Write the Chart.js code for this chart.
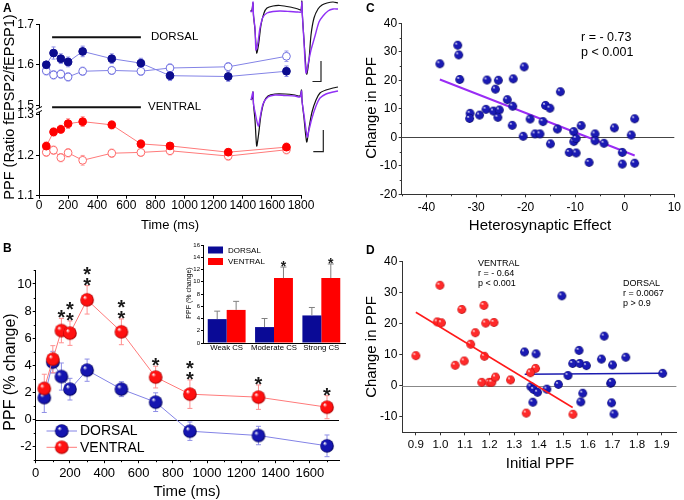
<!DOCTYPE html>
<html><head><meta charset="utf-8">
<script src="https://cdn.jsdelivr.net/npm/chart.js@4.4.1/dist/chart.umd.min.js"></script>
<style>
html,body{margin:0;padding:0;background:#fff;}
#wrap{position:relative;width:684px;height:500px;overflow:hidden;font-family:'Liberation Sans',Arial,sans-serif;color:#000;background:#fff;}
canvas{position:absolute;left:0;top:0;}
.t{position:absolute;white-space:nowrap;line-height:1;}
.rot{transform:translate(-50%,-50%) rotate(-90deg);}
.c{transform:translate(-50%,-50%);}
.l{transform:translate(0,-50%);}
.pl{font-weight:bold;font-size:12px;}
</style></head><body><div id="wrap">
<canvas id="cA" width="684" height="500"></canvas>
<canvas id="cTr" width="684" height="500"></canvas>
<canvas id="cB" width="684" height="500"></canvas>
<canvas id="cIn" width="684" height="500"></canvas>
<canvas id="cC" width="684" height="500"></canvas>
<canvas id="cD" width="684" height="500"></canvas>

<div class="t pl" style="left:3px;top:2px;">A</div>
<div class="t pl" style="left:3px;top:242px;">B</div>
<div class="t pl" style="left:366px;top:2px;">C</div>
<div class="t pl" style="left:366px;top:244px;">D</div>

<div class="t rot" style="left:9px;top:107px;font-size:14.5px;">PPF (Ratio fEPSP2/fEPSP1)</div>
<div class="t c" style="left:170px;top:224px;font-size:13px;">Time (ms)</div>
<div class="t l" style="left:151px;top:37px;font-size:11.5px;">DORSAL</div>
<div class="t l" style="left:148px;top:107px;font-size:11.5px;">VENTRAL</div>

<div class="t rot" style="left:10px;top:372px;font-size:16px;">PPF (% change)</div>
<div class="t c" style="left:187px;top:490px;font-size:15px;">Time (ms)</div>
<div class="t rot" style="left:188px;top:293px;font-size:7px;">PPF (% change)</div>

<div class="t rot" style="left:370px;top:108px;font-size:15px;">Change in PPF</div>
<div class="t c" style="left:540px;top:224px;font-size:15px;">Heterosynaptic Effect</div>
<div class="t l" style="left:581px;top:37px;font-size:12.5px;">r = - 0.73</div>
<div class="t l" style="left:581px;top:52px;font-size:12.5px;">p &lt; 0.001</div>

<div class="t rot" style="left:370px;top:347px;font-size:15px;">Change in PPF</div>
<div class="t c" style="left:540px;top:462px;font-size:15px;">Initial PPF</div>
<div class="t l" style="left:478px;top:263px;font-size:9px;">VENTRAL</div>
<div class="t l" style="left:478px;top:273px;font-size:9px;">r = - 0.64</div>
<div class="t l" style="left:478px;top:283px;font-size:9px;">p &lt; 0.001</div>
<div class="t l" style="left:623px;top:283px;font-size:9px;">DORSAL</div>
<div class="t l" style="left:623px;top:293px;font-size:9px;">r = 0.0067</div>
<div class="t l" style="left:623px;top:303px;font-size:9px;">p &gt; 0.9</div>
</div>
<script>
// ================= DATA =================
const timesMs = [50,100,150,200,300,500,700,900,1300,1700];
// Panel A (PPF ratio)
const dorsalPpfCS      = [1.600,1.629,1.615,1.607,1.633,1.615,1.604,1.573,1.571,1.584];
const dorsalPpfCSErr   = [0.008,0.015,0.012,0.012,0.013,0.012,0.012,0.012,0.012,0.013];
const dorsalPpfBase    = [1.585,1.575,1.577,1.570,1.584,1.586,1.584,1.592,1.595,1.621];
const dorsalPpfBaseErr = [0.010,0.010,0.010,0.010,0.010,0.010,0.010,0.010,0.010,0.013];
const ventralPpfCS      = [1.2225,1.2575,1.264,1.278,1.283,1.275,1.228,1.223,1.2075,1.220];
const ventralPpfCSErr   = [0.010,0.010,0.010,0.012,0.012,0.010,0.010,0.008,0.008,0.010];
const ventralPpfBase    = [1.2075,1.2125,1.194,1.206,1.1875,1.205,1.207,1.211,1.198,1.2135];
const ventralPpfBaseErr = [0.010,0.010,0.010,0.010,0.012,0.010,0.010,0.010,0.010,0.010];
const ppfTicksLow  = [1.1,1.2,1.3];
const ppfTicksHigh = [1.5,1.6,1.7];
const timeTicksA   = [0,200,400,600,800,1000,1200,1400,1600,1800];
const stimBarTimes = [90,700];
const dorsalBarLevel = 1.668;
const ventralBarLevel = 1.495;
// Example traces (t, amplitude) : before (black) and after (purple)
const trDorsalBeforeT = [0.5,2,3,3.5,5,6.7,8.5,11,14,17,23,30,40,48,51,51.8,52.3,54,56.7,59,61,64,68,72,77,83,88];
const trDorsalBeforeV = [-11,-10,-3,-15,-30,-53,-45,-25,-13,-8,-6,-5.5,-7,-9,-10,-1,-14,-40,-74,-60,-35,-18,-9,-5,-3,-2,-3];
const trDorsalAfterT  = [0.5,2,3,3.5,5,6,8,10,13,17,23,30,40,48,51,51.8,52.3,54,56,58.5,61,65,69,73,78,83,88];
const trDorsalAfterV  = [-12,-11,-2,-16,-28,-50,-42,-28,-17,-13,-11.5,-11,-11.5,-12,-12,-2,-14,-42,-73,-62,-50,-36,-22,-16,-11,-9,-9];
const trVentralBeforeT = [1,2.5,3,3.5,5,6.7,8.5,11,14,18,25,35,45,50,51.5,52,54,56.7,59,62,66,70,76,83,88];
const trVentralBeforeV = [-100,-98,-92,-104,-120,-146,-135,-115,-102,-96,-94,-94,-95,-96,-90,-100,-118,-142,-128,-112,-100,-93,-90,-88,-87];
const trVentralAfterT  = [1,3,3.5,5,8.3,10,13,18,25,35,45,50,51.5,52,54,57.3,59,62,66,70,76,83,88];
const trVentralAfterV  = [-100,-92,-104,-112,-126,-118,-104,-97,-95,-95.5,-96,-97,-91,-101,-115,-137,-130,-118,-106,-98,-94,-92,-91];
const scaleBarUpperT = [62.5,71,71];   const scaleBarUpperV = [-81.5,-81.5,-61];
const scaleBarLowerT = [63.3,73.3,73.3]; const scaleBarLowerV = [-151.7,-151.7,-130];

// Panel B (% change)
const dorsalChange     = [1.62,4.23,3.17,2.24,3.64,2.24,1.28,-0.86,-1.18,-1.94];
const dorsalChangeErr  = [1.10,0.80,1.00,0.80,0.82,0.55,0.69,0.68,0.68,0.80];
const ventralChange    = [2.29,4.45,6.56,6.37,8.83,6.47,3.13,1.87,1.65,0.91];
const ventralChangeErr = [1.05,1.00,0.90,0.90,1.05,0.95,0.80,1.05,0.90,0.85];
const ventralStars     = [0,0,1,2,2,2,1,2,1,1];
const timeTicksB  = [0,200,400,600,800,1000,1200,1400,1600];
const timeMinorB  = [100,300,500,700,900,1100,1300,1500,1700];
const changeTicksB = [-2,0,2,4,6,8,10];
const changeMinorB = [-3,-1,1,3,5,7,9,11];
// Inset (CS strength)
const csCategories  = ['Weak CS','Moderate CS','Strong CS'];
const dorsalCsPpf   = [3.9,2.6,4.5];
const dorsalCsErr   = [1.3,1.4,1.3];
const ventralCsPpf  = [5.4,10.6,10.6];
const ventralCsErr  = [1.4,1.8,2.3];
const ventralCsStars = [0,1,1];
const insetTicks = [0,2,4,6,8,10,12,14,16];

// Panel C
const heteroEffect = [-37.3,-33.7,-33.5,-33.3,-31.2,-31.3,-29.3,-28.0,-27.8,-25.5,-26.1,-26.5,-25.3,-25.6,-22.5,-20.3,-23.7,-22.6,-22.7,-19.1,-16.5,-16.0,-15.1,-13.0,-13.6,-8.8,-2.1,2.0,-20.5,-18.1,-17.1,-15.0,-11.2,-9.8,-10.3,-10.3,-9.8,-7.2,-6.0,-6.0,-4.2,-0.5,-0.5,1.3,2.0];
const heteroChange = [25.8,32.3,28.9,20.3,8.4,6.6,7.8,9.8,20.1,20.0,16.9,9.2,9.6,7.0,20.5,24.7,13.2,10.9,4.2,6.4,5.5,11.2,10.2,16.0,2.9,4.1,3.3,6.5,0.35,1.2,1.2,-2.3,-5.3,-5.5,2.0,-1.5,-0.4,-8.8,1.2,-1.2,-2.1,-5.3,-9.4,0.8,-9.1];
const heteroFitX = [-37.3,2.0];
const heteroFitY = [20.3,-6.4];
const heteroTicksX = [-40,-30,-20,-10,0,10];
const heteroMinorX = [-45,-35,-25,-15,-5,5];
const heteroTicksY = [-20,-10,0,10,20,30,40];
const heteroMinorY = [-15,-5,5,15,25,35];

// Panel D
const ventralInitial = [0.900,0.998,0.987,1.004,1.060,1.097,1.087,1.177,1.184,1.218,1.142,1.123,1.179,1.387,1.366,1.168,1.198,1.209,1.224,1.285,1.349,1.539];
const ventralDelta   = [9.7,32.4,20.6,20.3,6.6,8.0,24.6,25.9,20.2,20.4,17.1,13.4,9.5,5.6,4.2,1.1,1.1,1.1,2.8,1.9,-8.8,-9.2];
const dorsalInitial  = [1.494,1.342,1.389,1.564,1.538,1.567,1.594,1.655,1.666,1.700,1.754,1.519,1.904,1.368,1.379,1.395,1.433,1.480,1.376,1.571,1.579,1.692,1.696,1.696,1.706];
const dorsalDelta    = [29.0,10.9,10.3,11.4,7.2,7.2,6.5,8.6,16.0,6.7,9.2,3.3,4.0,-0.3,-1.2,-2.1,-1.1,0.45,-5.3,-5.2,-2.4,0.8,1.1,-5.5,-9.1];
const ventralFitX = [0.90,1.538];  const ventralFitY = [23.7,-7.0];
const dorsalFitX  = [1.343,1.904]; const dorsalFitY  = [3.7,4.0];
const initTicksX = [0.9,1.0,1.1,1.2,1.3,1.4,1.5,1.6,1.7,1.8,1.9];
const initTicksY = [-10,0,10,20,30,40];

// ================= STYLE / HELPERS =================
const FONT = "'Liberation Sans', Arial, sans-serif";
Chart.defaults.font.family = FONT;
Chart.defaults.animation = false;
Chart.defaults.events = [];
Chart.defaults.plugins.legend.display = false;
Chart.defaults.plugins.tooltip.enabled = false;

const NAVY = '#0c0c8e', BLUE_LINE = '#8383e6', RED = '#ff0000', RED_LINE = '#ff7a7a';

function pts(xs, ys){ return xs.map((x,i)=>({x:x, y:ys[i]})); }
function sphere(col, dark, r){
  const s = Math.ceil(2*r+2), c = document.createElement('canvas');
  c.width = s; c.height = s;
  const g = c.getContext('2d'), cx = s/2, cy = s/2;
  const gr = g.createRadialGradient(cx-0.38*r, cy-0.42*r, 0.04*r, cx, cy, r);
  gr.addColorStop(0, '#ffffff'); gr.addColorStop(0.28, col); gr.addColorStop(0.8, col); gr.addColorStop(1, dark);
  g.fillStyle = gr; g.beginPath(); g.arc(cx, cy, r, 0, Math.PI*2); g.fill();
  return c;
}
const sBlueB = sphere('#1515b0','#000055',6.8), sRedB = sphere('#ff1010','#a00000',6.8);
const sBlueS = sphere('#1a1ab4','#00005a',4.4), sRedS = sphere('#ff2a2a','#b00000',4.4);

function axis(o){
  const col = o.color || '#000';
  const a = {
    type:'linear', position:o.position, min:o.min, max:o.max,
    border:{display:true, color:col, width:1},
    grid:{display:true, drawOnChartArea:false, drawTicks:true, tickLength:o.tl ?? 3, color:col, tickColor:col, tickWidth:1},
    ticks:{font:{size:o.size, family:FONT}, color:'#000', padding:o.pad ?? 2, autoSkip:false, maxRotation:0, minRotation:0,
           callback:o.cb || (v=>String(v))},
    afterFit: o.position==='left' ? (s=>{s.width=o.fit;}) : (s=>{s.height=o.fit;})
  };
  if (o.ticks) a.afterBuildTicks = s=>{ s.ticks = o.ticks.map(v=>({value:v})); };
  return a;
}
function drawErr(chart, di, errs, color, cap, lw, upOnly){
  const meta = chart.getDatasetMeta(di), ys = chart.scales[meta.yAxisID], ds = chart.data.datasets[di], ctx = chart.ctx;
  ctx.save(); ctx.strokeStyle = color; ctx.lineWidth = lw; ctx.beginPath();
  meta.data.forEach((el,i)=>{
    const d = ds.data[i], v = (typeof d === 'object') ? d.y : d, e = errs[i];
    const x = el.x, y1 = ys.getPixelForValue(v+e), y2 = upOnly ? ys.getPixelForValue(v) : ys.getPixelForValue(v-e);
    ctx.moveTo(x,y1); ctx.lineTo(x,y2);
    ctx.moveTo(x-cap/2,y1); ctx.lineTo(x+cap/2,y1);
    if(!upOnly){ ctx.moveTo(x-cap/2,y2); ctx.lineTo(x+cap/2,y2); }
  });
  ctx.stroke(); ctx.restore();
}
function drawStars(chart, di, errs, counts, size, first, gap){
  const meta = chart.getDatasetMeta(di), ys = chart.scales[meta.yAxisID], ds = chart.data.datasets[di], ctx = chart.ctx;
  ctx.save(); ctx.fillStyle = '#1a1a1a'; ctx.font = 'bold '+size+'px '+FONT; ctx.textAlign='center'; ctx.textBaseline='alphabetic';
  meta.data.forEach((el,i)=>{
    const d = ds.data[i], v = (typeof d === 'object') ? d.y : d;
    const top = ys.getPixelForValue(v+errs[i]);
    for (let k=0;k<counts[i];k++){ const cy = top - first - gap*k; ctx.fillText('*', el.x, cy + 0.6*size); }
  });
  ctx.restore();
}
function drawMinor(chart, id, vals, len, color){
  const s = chart.scales[id], ctx = chart.ctx;
  ctx.save(); ctx.strokeStyle = color; ctx.lineWidth = 1; ctx.beginPath();
  vals.forEach(v=>{
    const p = Math.round(s.getPixelForValue(v)) + 0.5;
    if (s.isHorizontal()){ ctx.moveTo(p, s.top); ctx.lineTo(p, s.top+len); }
    else { ctx.moveTo(s.right, p); ctx.lineTo(s.right-len, p); }
  });
  ctx.stroke(); ctx.restore();
}
function zeroLine(chart, color){
  const ys = chart.scales.y, xs = chart.scales.x, ctx = chart.ctx, p = Math.round(ys.getPixelForValue(0))+0.5;
  ctx.save(); ctx.strokeStyle=color; ctx.lineWidth=1; ctx.beginPath(); ctx.moveTo(xs.left,p); ctx.lineTo(xs.right,p); ctx.stroke(); ctx.restore();
}

// ================= PANEL A =================
// Broken y axis: upper segment (1.5-1.7) drawn shifted down onto a common scale
const BREAK_SHIFT = 0.1765;
const up = arr => arr.map(v => v - BREAK_SHIFT);
const ppfTickPos = ppfTicksLow.concat(up(ppfTicksHigh));
new Chart(document.getElementById('cA'), {
  type:'scatter',
  data:{datasets:[
    {data:pts(timesMs, up(dorsalPpfCS)), showLine:true, borderColor:BLUE_LINE, borderWidth:1, pointRadius:3.9, pointBackgroundColor:NAVY, pointBorderColor:NAVY, pointBorderWidth:1},
    {data:pts(timesMs, up(dorsalPpfBase)), showLine:true, borderColor:BLUE_LINE, borderWidth:1, pointRadius:3.9, pointBackgroundColor:'#fff', pointBorderColor:'#6f6fe0', pointBorderWidth:1},
    {data:pts(timesMs, ventralPpfCS), showLine:true, borderColor:RED_LINE, borderWidth:1, pointRadius:3.9, pointBackgroundColor:RED, pointBorderColor:RED, pointBorderWidth:1},
    {data:pts(timesMs, ventralPpfBase), showLine:true, borderColor:RED_LINE, borderWidth:1, pointRadius:3.9, pointBackgroundColor:'#fff', pointBorderColor:'#ff6a6a', pointBorderWidth:1},
    {data:pts(stimBarTimes, up([dorsalBarLevel,dorsalBarLevel])), showLine:true, borderColor:'#111', borderWidth:2.2, pointRadius:0},
    {data:pts(stimBarTimes, up([ventralBarLevel,ventralBarLevel])), showLine:true, borderColor:'#111', borderWidth:2.2, pointRadius:0}
  ]},
  options:{
    responsive:false, layout:{padding:{left:9, right:383, top:24.3, bottom:288.3}},
    scales:{
      x: axis({position:'bottom', min:0, max:1800, ticks:timeTicksA, size:12, fit:16, tl:3, pad:0}),
      y: axis({position:'left', min:1.1, max:1.7-BREAK_SHIFT, ticks:ppfTickPos, size:12, fit:30, tl:3, pad:2,
               cb:v=> (v<=1.3001 ? v : v+BREAK_SHIFT).toFixed(1)})
    }
  },
  plugins:[{id:'aExtras',
    beforeDatasetsDraw(chart){
      drawErr(chart,0,dorsalPpfCSErr,'#8a8ae6',4,1,false);
      drawErr(chart,1,dorsalPpfBaseErr,'#9a9aec',4,1,false);
      drawErr(chart,2,ventralPpfCSErr,'#ff8a8a',4,1,false);
      drawErr(chart,3,ventralPpfBaseErr,'#ff9a9a',4,1,false);
    },
    afterDraw(chart){
      const ys = chart.scales.y, ctx = chart.ctx, x = ys.right;
      const yA = ys.getPixelForValue(1.3), yB = ys.getPixelForValue(1.5-BREAK_SHIFT);
      const m = (yA+yB)/2;
      ctx.save(); ctx.fillStyle='#fff'; ctx.fillRect(x-1.5, m-2, 3, 4);
      ctx.strokeStyle='#000'; ctx.lineWidth=1; ctx.beginPath();
      ctx.moveTo(x-3, m-0.5); ctx.lineTo(x+3, m-3.5);
      ctx.moveTo(x-3, m+3.5); ctx.lineTo(x+3, m+0.5);
      ctx.stroke(); ctx.restore();
    }
  }]
});

// Example traces
new Chart(document.getElementById('cTr'), {
  type:'scatter',
  data:{datasets:[
    {data:pts(trDorsalAfterT, trDorsalAfterV), showLine:true, borderColor:'#9030f5', borderWidth:1.4, pointRadius:0, tension:0.25},
    {data:pts(trDorsalBeforeT, trDorsalBeforeV), showLine:true, borderColor:'#111', borderWidth:1.2, pointRadius:0, tension:0.25},
    {data:pts(trVentralAfterT, trVentralAfterV), showLine:true, borderColor:'#9030f5', borderWidth:1.4, pointRadius:0, tension:0.25},
    {data:pts(trVentralBeforeT, trVentralBeforeV), showLine:true, borderColor:'#111', borderWidth:1.2, pointRadius:0, tension:0.25},
    {data:pts(scaleBarUpperT, scaleBarUpperV), showLine:true, borderColor:'#222', borderWidth:1.2, pointRadius:0},
    {data:pts(scaleBarLowerT, scaleBarLowerV), showLine:true, borderColor:'#222', borderWidth:1.2, pointRadius:0}
  ]},
  options:{responsive:false, layout:{padding:{left:250, right:340, top:0, bottom:340}},
    scales:{x:{type:'linear', display:false, min:0, max:94}, y:{type:'linear', display:false, min:-160, max:0}}}
});

// ================= PANEL B =================
new Chart(document.getElementById('cB'), {
  type:'scatter',
  data:{datasets:[
    {data:pts(timesMs, ventralChange), showLine:true, borderColor:RED_LINE, borderWidth:1, pointStyle:sRedB, pointRadius:7},
    {data:pts(timesMs, dorsalChange), showLine:true, borderColor:BLUE_LINE, borderWidth:1, pointStyle:sBlueB, pointRadius:7}
  ]},
  options:{
    responsive:false, layout:{padding:{left:9.7, right:345, top:270.4, bottom:19.8}},
    scales:{
      x: axis({position:'bottom', min:0, max:1770, ticks:timeTicksB, size:13, fit:20, tl:3, pad:2}),
      y: axis({position:'left', min:-3, max:11, ticks:changeTicksB, size:13, fit:26, tl:3, pad:1})
    }
  },
  plugins:[{id:'bExtras',
    beforeDatasetsDraw(chart){
      zeroLine(chart,'#000');
      drawErr(chart,1,dorsalChangeErr,'#8f8fe6',5,1,false);
      drawErr(chart,0,ventralChangeErr,'#ff9090',5,1,false);
    },
    afterDatasetsDraw(chart){
      drawStars(chart,0,ventralChangeErr,ventralStars,20,6,11);
    },
    afterDraw(chart){
      drawMinor(chart,'x',timeMinorB,2,'#000');
      drawMinor(chart,'y',changeMinorB,2,'#000');
      const ctx = chart.ctx;
      const rows = [[431,BLUE_LINE,sBlueB,'DORSAL'],[447.3,RED_LINE,sRedB,'VENTRAL']];
      ctx.save();
      rows.forEach(r=>{
        ctx.strokeStyle=r[1]; ctx.lineWidth=1; ctx.beginPath(); ctx.moveTo(46.5,r[0]); ctx.lineTo(77,r[0]); ctx.stroke();
        ctx.drawImage(r[2], 61.7-r[2].width/2, r[0]-r[2].height/2);
        ctx.fillStyle='#000'; ctx.font='14px '+FONT; ctx.textAlign='left'; ctx.textBaseline='middle';
        ctx.fillText(r[3], 80, r[0]+0.5);
      });
      ctx.restore();
    }
  }]
});

// Inset bar chart
new Chart(document.getElementById('cIn'), {
  type:'bar',
  data:{labels:csCategories, datasets:[
    {data:dorsalCsPpf, backgroundColor:'#0a0a96', categoryPercentage:0.8, barPercentage:1.0},
    {data:ventralCsPpf, backgroundColor:'#ff0000', categoryPercentage:0.8, barPercentage:1.0}
  ]},
  options:{
    responsive:false, layout:{padding:{left:191, right:339, top:245, bottom:147}},
    scales:{
      x:{type:'category', position:'bottom', grid:{display:false, drawTicks:false}, border:{display:true,color:'#000'},
         ticks:{display:false},
         afterFit:s=>{s.height=10;}},
      y: axis({position:'left', min:0, max:16, ticks:insetTicks, size:6, fit:12, tl:2, pad:1})
    }
  },
  plugins:[{id:'inExtras',
    afterDatasetsDraw(chart){
      drawErr(chart,0,dorsalCsErr,'#808080',6,1,true);
      drawErr(chart,1,ventralCsErr,'#808080',6,1,true);
      drawStars(chart,1,ventralCsErr,ventralCsStars,14,4,8);
    },
    afterDraw(chart){
      const ctx = chart.ctx, xs = chart.scales.x;
      ctx.save();
      ctx.fillStyle='#000'; ctx.font='7.8px '+FONT; ctx.textAlign='center'; ctx.textBaseline='middle';
      chart.data.labels.forEach((lab,i)=>{ ctx.fillText(lab, xs.getPixelForValue(i), xs.top + 5); });
      [[250,'#0a0a96','DORSAL'],[261.5,'#ff0000','VENTRAL']].forEach(r=>{
        ctx.fillStyle=r[1]; ctx.fillRect(208, r[0]-3.5, 15, 7);
        ctx.fillStyle='#000'; ctx.font='8px '+FONT; ctx.textAlign='left'; ctx.textBaseline='middle';
        ctx.fillText(r[2], 228, r[0]+0.5);
      });
      ctx.restore();
    }
  }]
});

// ================= PANEL C =================
new Chart(document.getElementById('cC'), {
  type:'scatter',
  data:{datasets:[
    {data:pts(heteroEffect, heteroChange), pointStyle:sBlueS, pointRadius:4.5},
    {data:pts(heteroFitX, heteroFitY), showLine:true, borderColor:'#9a2cf5', borderWidth:2, pointRadius:0}
  ]},
  options:{
    responsive:false, layout:{padding:{left:375.7, right:6.7, top:23.3, bottom:287.7}},
    scales:{
      x: axis({position:'bottom', min:-45, max:10, ticks:heteroTicksX, size:12, fit:18, tl:3, pad:3, color:'#333'}),
      y: axis({position:'left', min:-20, max:40, ticks:heteroTicksY, size:12, fit:26, tl:3, pad:1.5, color:'#333'})
    }
  },
  plugins:[{id:'cExtras',
    beforeDatasetsDraw(chart){ zeroLine(chart,'#444'); },
    afterDraw(chart){ drawMinor(chart,'x',heteroMinorX,2,'#333'); drawMinor(chart,'y',heteroMinorY,2,'#333'); }
  }]
});

// ================= PANEL D =================
new Chart(document.getElementById('cD'), {
  type:'scatter',
  data:{datasets:[
    {data:pts(ventralFitX, ventralFitY), showLine:true, borderColor:'#ff1a1a', borderWidth:1.5, pointRadius:0},
    {data:pts(ventralInitial, ventralDelta), pointStyle:sRedS, pointRadius:4.5},
    {data:pts(dorsalInitial, dorsalDelta), pointStyle:sBlueS, pointRadius:4.5},
    {data:pts(dorsalFitX, dorsalFitY), showLine:true, borderColor:'#1c1cb0', borderWidth:1.5, pointRadius:0}
  ]},
  options:{
    responsive:false, layout:{padding:{left:376.3, right:7.6, top:261.7, bottom:49.7}},
    scales:{
      x: axis({position:'bottom', min:0.845, max:1.96, ticks:initTicksX, size:11.5, fit:18, tl:3, pad:3, color:'#333', cb:v=>v.toFixed(1)}),
      y: axis({position:'left', min:-15, max:40, ticks:initTicksY, size:12, fit:26, tl:3, pad:2, color:'#333'})
    }
  },
  plugins:[{id:'dExtras',
    beforeDatasetsDraw(chart){ zeroLine(chart,'#888'); }
  }]
});
</script>
</body></html>
